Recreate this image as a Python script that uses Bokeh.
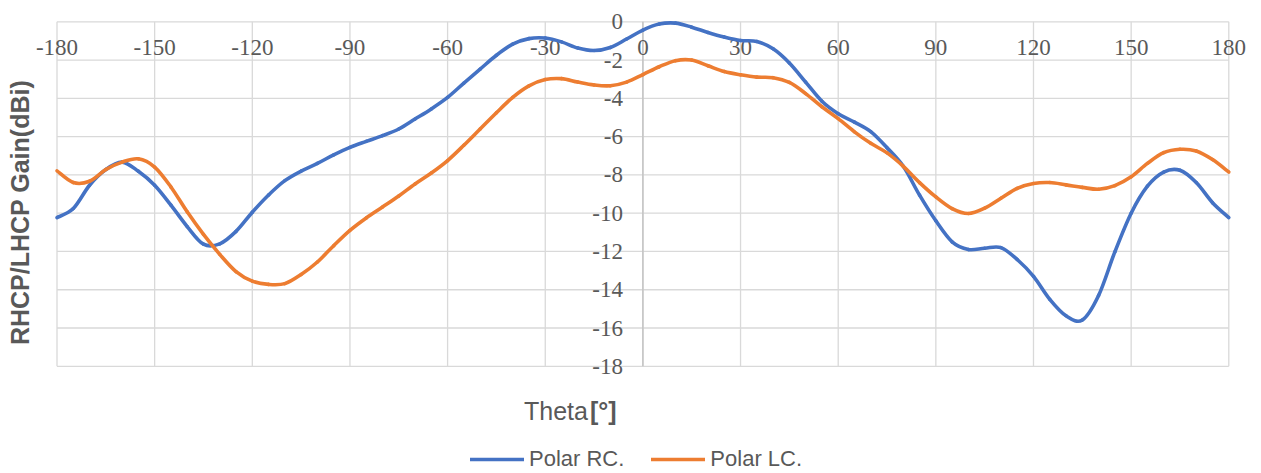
import math
from bokeh.plotting import figure
from bokeh.models import Range1d, Label, Legend, LegendItem
from bokeh.embed import file_html
from bokeh.resources import INLINE

# ---- data ----
theta = list(range(-180, 181, 5))
rc_gain = [-10.23, -9.76, -8.54, -7.72, -7.33, -7.81, -8.54, -9.58, -10.7, -11.62,
           -11.6, -10.95, -9.95, -9.05, -8.3, -7.8, -7.4, -6.95, -6.56, -6.25,
           -5.95, -5.6, -5.08, -4.55, -3.95, -3.2, -2.47, -1.75, -1.17, -0.88,
           -0.85, -1.05, -1.37, -1.5, -1.34, -0.9, -0.43, -0.12, -0.07, -0.28,
           -0.56, -0.8, -0.98, -1.03, -1.41, -2.15, -3.15, -4.15, -4.8, -5.24,
           -5.74, -6.58, -7.55, -9.06, -10.4, -11.5, -11.9, -11.83, -11.8, -12.42,
           -13.3, -14.5, -15.36, -15.58, -14.3, -12.02, -10.0, -8.59, -7.85, -7.76,
           -8.4, -9.45, -10.23]
lc_gain = [-7.79, -8.4, -8.33, -7.72, -7.33, -7.16, -7.59, -8.63, -9.93, -11.11,
           -12.15, -13.05, -13.55, -13.72, -13.68, -13.2, -12.55, -11.7, -10.9, -10.25,
           -9.68, -9.1, -8.47, -7.9, -7.25, -6.45, -5.6, -4.75, -3.95, -3.35,
           -3.02, -2.97, -3.15, -3.3, -3.34, -3.15, -2.76, -2.35, -2.03, -2.0,
           -2.3, -2.6, -2.77, -2.89, -2.92, -3.17, -3.75, -4.44, -5.06, -5.75,
           -6.35, -6.85, -7.55, -8.4, -9.15, -9.76, -10.02, -9.74, -9.22, -8.7,
           -8.45, -8.4, -8.52, -8.65, -8.75, -8.56, -8.1, -7.4, -6.84, -6.66,
           -6.75, -7.2, -7.85]
x_ticks = [-180, -150, -120, -90, -60, -30, 0, 30, 60, 90, 120, 150, 180]
x_tick_labels = ["-180", "-150", "-120", "-90", "-60", "-30", "0", "30", "60", "90", "120", "150", "180"]
y_ticks = [0, -2, -4, -6, -8, -10, -12, -14, -16, -18]
y_tick_labels = ["0", "-2", "-4", "-6", "-8", "-10", "-12", "-14", "-16", "-18"]
series_names = ["Polar RC.", "Polar LC."]
y_title = "RHCP/LHCP Gain(dBi)"
x_title_a = "Theta"
x_title_b = "[°]"

# ---- layout / style ----
W, H = 1261, 473
X_MIN, X_MAX = x_ticks[0], x_ticks[-1]
Y_MIN, Y_MAX = y_ticks[-1], y_ticks[0]
PX_L, PX_R, PX_T, PX_B = 56.5, 1228.3, 21.3, 365.8   # pixel edges of the plot area
kx = (PX_R - PX_L) / (X_MAX - X_MIN)
ky = (PX_B - PX_T) / (Y_MAX - Y_MIN)

FONT = "Liberation Sans"
TXT = "#595959"
GRID = "#D9D9D9"
BLUE = "#4472C4"
ORANGE = "#ED7D31"

p = figure(width=W, height=H, output_backend="svg", toolbar_location=None,
           x_range=Range1d(X_MIN - PX_L / kx, X_MAX + (W - PX_R) / kx),
           y_range=Range1d(Y_MIN - (H - PX_B) / ky, Y_MAX + PX_T / ky),
           x_axis_location=None, y_axis_location=None,
           min_border_left=0, min_border_right=0, min_border_top=0, min_border_bottom=0)
p.grid.visible = False
p.outline_line_color = None
p.background_fill_color = "white"
p.border_fill_color = "white"

# gridlines
p.segment(x0=x_ticks, y0=[Y_MIN] * len(x_ticks), x1=x_ticks, y1=[Y_MAX] * len(x_ticks),
          line_color=GRID, line_width=1.3)
p.segment(x0=[X_MIN] * len(y_ticks), y0=y_ticks, x1=[X_MAX] * len(y_ticks), y1=y_ticks,
          line_color=GRID, line_width=1.3)
# vertical axis line at theta = 0
p.segment(x0=[0], y0=[Y_MIN], x1=[0], y1=[Y_MAX], line_color="#BFBFBF", line_width=1.3)

# tick labels (horizontal axis crosses at 0 dBi, vertical axis at 0 deg)
p.text(x=x_ticks, y=[Y_MAX] * len(x_ticks), text=x_tick_labels, x_offset=0, y_offset=26,
       text_align="center", text_baseline="middle", text_font="Liberation Sans",
       text_font_size="23px", text_color=TXT)
p.text(x=[0] * len(y_ticks), y=y_ticks, text=y_tick_labels, x_offset=-20, y_offset=0,
       text_align="right", text_baseline="middle", text_font="Liberation Sans",
       text_font_size="23px", text_color=TXT)


# smoothed curves (Catmull-Rom -> cubic Bezier through the read points)
def bezier_segments(xs, ys):
    n = len(xs)
    out = {k: [] for k in ("x0", "y0", "x1", "y1", "cx0", "cy0", "cx1", "cy1")}
    for i in range(n - 1):
        im1 = max(i - 1, 0)
        ip2 = min(i + 2, n - 1)
        out["x0"].append(xs[i]); out["y0"].append(ys[i])
        out["x1"].append(xs[i + 1]); out["y1"].append(ys[i + 1])
        out["cx0"].append(xs[i] + (xs[i + 1] - xs[im1]) / 6.0)
        out["cy0"].append(ys[i] + (ys[i + 1] - ys[im1]) / 6.0)
        out["cx1"].append(xs[i + 1] - (xs[ip2] - xs[i]) / 6.0)
        out["cy1"].append(ys[i + 1] - (ys[ip2] - ys[i]) / 6.0)
    return out


r1 = p.bezier(**bezier_segments(theta, rc_gain), line_color=BLUE, line_width=3.6, line_cap="round")
r2 = p.bezier(**bezier_segments(theta, lc_gain), line_color=ORANGE, line_width=3.6, line_cap="round")

# axis titles
p.add_layout(Label(x=X_MIN, y=-9.96, x_offset=-37, angle=math.pi / 2, text=y_title,
                   text_align="center", text_baseline="middle", text_font=FONT,
                   text_font_size="25px", text_font_style="bold", text_color=TXT))
p.add_layout(Label(x=0, y=Y_MIN, x_offset=-55, y_offset=-45, text=x_title_a,
                   text_align="right", text_baseline="alphabetic", text_font=FONT,
                   text_font_size="25px", text_color=TXT))
p.add_layout(Label(x=0, y=Y_MIN, x_offset=-53, y_offset=-45, text=x_title_b,
                   text_align="left", text_baseline="alphabetic", text_font=FONT,
                   text_font_size="25px", text_font_style="bold", text_color=TXT))

legend = Legend(items=[LegendItem(label=series_names[0], renderers=[r1]),
                       LegendItem(label=series_names[1], renderers=[r2])],
                orientation="horizontal", location=(470, 1),
                padding=0, margin=0, spacing=27, glyph_width=54, label_standoff=5,
                label_text_font=FONT, label_text_font_size="22px", label_text_color=TXT,
                border_line_color=None, background_fill_alpha=0)
p.add_layout(legend)

open("out.html", "w").write(file_html(p, INLINE))
